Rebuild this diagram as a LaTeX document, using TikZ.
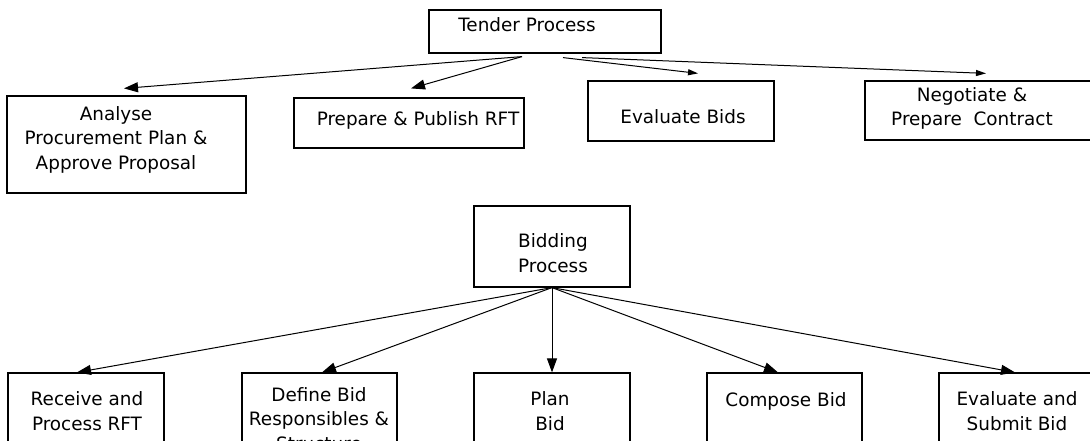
\documentclass[tikz,border=0pt]{standalone}
\usepackage{fontspec}
\setmainfont{DejaVu Sans}
\usepackage{tikz}
\usetikzlibrary{calc,arrows.meta,positioning}
\tikzset{
    box/.style={
    rectangle,draw=black,line width=1.2pt,inner sep=0pt
    },
    lbl/.style={
    font=\fontsize{18.4}{24.5}\selectfont,align=center,inner sep=0pt
    },
    bigarrow/.style={
    -{Triangle[length=14pt,width=10pt]},line width=1pt
    },
    thinarrow/.style={
    -{Triangle[length=10pt,width=6pt]},line width=1pt
    },
}
\begin{document}
\begin{tikzpicture}[x=1pt,y=-1pt]
  \useasboundingbox (0,0) rectangle (1090,441);
  % tender process
  \node[box,minimum width=232,minimum height=43] (tender) at (545,31.5) {};
  \node[box,minimum width=239,minimum height=97] (analyse) at (126.5,144.5) {};
  \node[box,minimum width=230,minimum height=50] (prepare) at (409,123) {};
  \node[box,minimum width=186,minimum height=60] (evaluate) at (681,111) {};
  \node[box,minimum width=230,minimum height=59] (negotiate) at (980,110.5) {};
  \node[lbl,anchor=base] (tendertxt) at (527,32) {Tender Process};
  \node[lbl,anchor=base] (analysetxt) at (116,169) {Analyse\\Procurement Plan \&\\Approve Proposal};
  \node[lbl,anchor=base] (preparetxt) at (418,126) {Prepare \& Publish RFT};
  \node[lbl,anchor=base] (evaluatetxt) at (683,124) {Evaluate Bids};
  \node[lbl,anchor=base] (negotiatetxt) at (972,126) {Negotiate \&\\Prepare~~Contract};

  \path[bigarrow]
    ($(tender.south)+(-23,3)$) edge ($(analyse.north)+(-2.5,-7)$)
                               edge ($(prepare.north)+(2,-9)$);
  \path[thinarrow]
    ($(tender.south)+(18,4)$) edge ($(evaluate.north)+(17,-7)$)
    ($(tender.south)+(37,4)$) edge ($(negotiate.north)+(6,-7)$);

  % bidding process
  \node[box,minimum width=156,minimum height=81] (bidding) at (552,246.5) {};
  \node[box,minimum width=156,minimum height=80] (receive) at (86,413) {};
  \node[box,minimum width=155,minimum height=80] (define) at (319.5,413) {};
  \node[box,minimum width=156,minimum height=80] (plan) at (552,413) {};
  \node[box,minimum width=155,minimum height=80] (compose) at (784.5,413) {};
  \node[box,minimum width=156,minimum height=80] (evalsubmit) at (1017,413) {};
  \node[lbl,anchor=base] (biddingtxt) at (553,272) {Bidding\\Process};
  \node[lbl,anchor=base] (receivetxt) at (87,430) {Receive and\\Process RFT};
  \node[lbl,anchor=base] (definetxt) at (319,450) {Define Bid\\Responsibles \&\\Structure};
  \node[lbl,anchor=base] (plantxt) at (550,430) {Plan\\Bid};
  \node[lbl,anchor=base] (composetxt) at (786,406) {Compose Bid};
  \node[lbl,anchor=base] (evalsubmittxt) at (1017,430) {Evaluate and\\Submit Bid};

  \path[bigarrow]
    (bidding.south) edge ($(receive.north)+(-9,0)$)
                    edge ($(define.north)+(2.5,0)$)
                    edge (plan.north)
                    edge ($(compose.north)+(-6.5,0)$)
                    edge ($(evalsubmit.north)+(-2,0)$);
\end{tikzpicture}
\end{document}
